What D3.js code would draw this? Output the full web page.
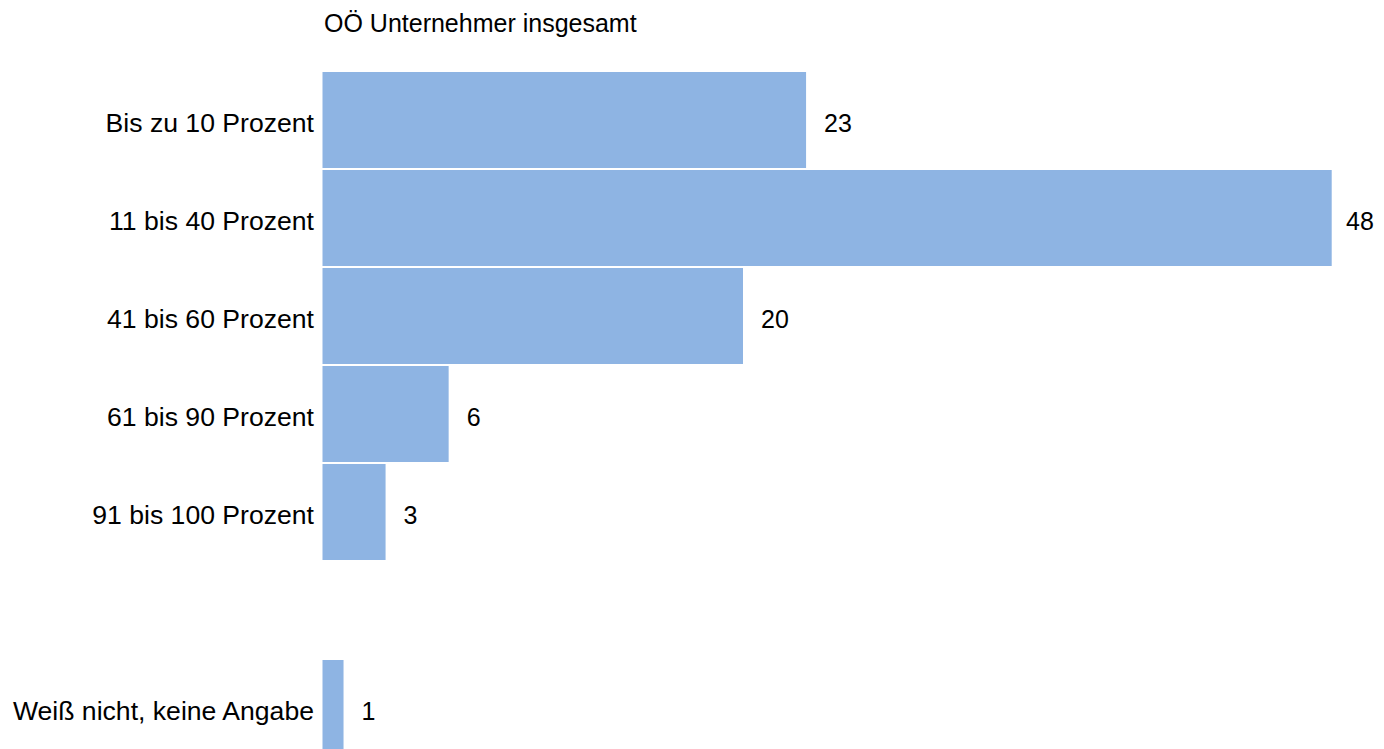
<!DOCTYPE html>
<html>
<head>
<meta charset="utf-8">
<script src="https://cdn.jsdelivr.net/npm/d3@7"></script>
<style>
  html, body { margin: 0; padding: 0; background: #fff; }
  svg { display: block; font-family: Arial, "Liberation Sans", sans-serif; }
</style>
</head>
<body>
<svg id="chart" width="1384" height="749"></svg>
<script>
const title = "OÖ Unternehmer insgesamt";
const categories = ["Bis zu 10 Prozent", "11 bis 40 Prozent", "41 bis 60 Prozent", "61 bis 90 Prozent", "91 bis 100 Prozent", "", "Weiß nicht, keine Angabe"];
const values = [23, 48, 20, 6, 3, null, 1];
const xMax = 48;

const svg = d3.select("#chart");

const keys = categories.map((c, i) => i);
const x = d3.scaleLinear().domain([0, xMax]).range([322.5, 1331.7]);
const pad = 2 / 98;
const y = d3.scaleBand().domain(keys).range([71, 71 + 98 * 7]).paddingInner(pad).paddingOuter(pad / 2);

const data = keys.map(i => ({ i, cat: categories[i], v: values[i] }));

svg.append("text")
  .attr("x", 324).attr("y", 31.5)
  .attr("font-size", 25).attr("fill", "#000")
  .text(title);

svg.append("g").selectAll("rect")
  .data(data.filter(d => d.v != null))
  .join("rect")
  .attr("x", x(0))
  .attr("y", d => y(d.i))
  .attr("width", d => x(d.v) - x(0))
  .attr("height", y.bandwidth())
  .attr("fill", "#8EB4E3");

svg.append("g").selectAll("text")
  .data(data.filter(d => d.cat))
  .join("text")
  .attr("x", 314)
  .attr("y", d => y(d.i) + y.bandwidth() / 2 + 3)
  .attr("dy", "0.35em")
  .attr("text-anchor", "end")
  .attr("font-size", 26.6)
  .attr("fill", "#000")
  .text(d => d.cat);

svg.append("g").selectAll("text")
  .data(data.filter(d => d.v != null))
  .join("text")
  .attr("x", d => Math.min(x(d.v) + 18, 1346))
  .attr("y", d => y(d.i) + y.bandwidth() / 2 + 3)
  .attr("dy", "0.35em")
  .attr("font-size", 25)
  .attr("fill", "#000")
  .text(d => d.v);
</script>
</body>
</html>
